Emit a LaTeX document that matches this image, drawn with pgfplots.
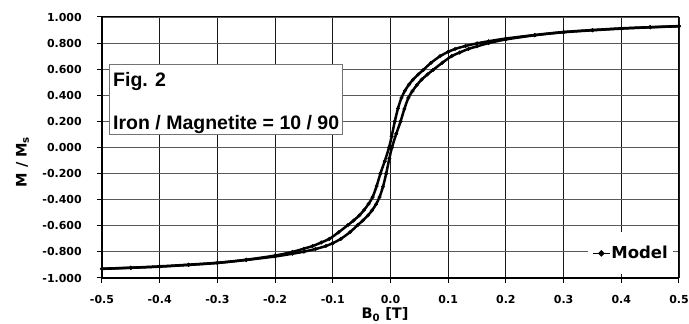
\documentclass[border=0pt]{standalone}
\usepackage{pgfplots}
\pgfplotsset{compat=1.18}
\usepackage{pgfplotstable}
\usepackage{fontspec}
\setmainfont{Liberation Sans}
\newfontfamily\dvs{DejaVu Sans}

\pgfplotstableread{
B M
-0.500 -0.929
-0.450 -0.921
-0.400 -0.911
-0.350 -0.898
-0.300 -0.883
-0.250 -0.860
-0.200 -0.828
-0.170 -0.800
-0.150 -0.775
-0.135 -0.755
-0.120 -0.728
-0.106 -0.700
-0.090 -0.650
-0.074 -0.595
-0.064 -0.560
-0.054 -0.520
-0.046 -0.480
-0.038 -0.432
-0.031 -0.380
-0.024 -0.295
-0.0175 -0.200
-0.010 -0.105
-0.0025 0.000
0.002 0.085
0.0075 0.200
0.013 0.300
0.019 0.380
0.025 0.435
0.032 0.482
0.039 0.520
0.048 0.560
0.057 0.595
0.070 0.648
0.086 0.700
0.100 0.733
0.112 0.755
0.130 0.778
0.150 0.798
0.170 0.814
0.200 0.835
0.250 0.862
0.300 0.885
0.350 0.900
0.400 0.913
0.450 0.922
0.500 0.930
}\upperbranch

\pgfplotstableread{
B M
-0.500 -0.930
-0.450 -0.922
-0.400 -0.913
-0.350 -0.900
-0.300 -0.885
-0.250 -0.862
-0.200 -0.835
-0.170 -0.814
-0.150 -0.798
-0.130 -0.778
-0.112 -0.755
-0.100 -0.733
-0.086 -0.700
-0.070 -0.648
-0.057 -0.595
-0.048 -0.560
-0.039 -0.520
-0.032 -0.482
-0.025 -0.435
-0.019 -0.380
-0.013 -0.300
-0.0075 -0.200
-0.002 -0.085
0.0025 0.000
0.010 0.105
0.0175 0.200
0.024 0.295
0.031 0.380
0.038 0.432
0.046 0.480
0.054 0.520
0.064 0.560
0.074 0.595
0.090 0.650
0.106 0.700
0.120 0.728
0.135 0.755
0.150 0.775
0.170 0.800
0.200 0.828
0.250 0.860
0.300 0.883
0.350 0.898
0.400 0.911
0.450 0.921
0.500 0.929
}\lowerbranch

\begin{document}
\begin{tikzpicture}
\begin{axis}[
  at={(0pt,0pt)}, anchor=south west,
  scale only axis, width=577pt, height=261pt,
  xmin=-0.5, xmax=0.5, ymin=-1, ymax=1,
  xtick={-0.5,-0.4,-0.3,-0.2,-0.1,0,0.1,0.2,0.3,0.4,0.5},
  xticklabels={-0.5,-0.4,-0.3,-0.2,-0.1,0.0,0.1,0.2,0.3,0.4,0.5},
  ytick={-1,-0.8,-0.6,-0.4,-0.2,0,0.2,0.4,0.6,0.8,1},
  yticklabels={-1.000,-0.800,-0.600,-0.400,-0.200,0.000,0.200,0.400,0.600,0.800,1.000},
  tick pos=left,
  tick align=outside,
  major tick length=5pt,
  every tick/.style={black, line width=1pt},
  tick label style={font=\dvs\bfseries\fontsize{11}{13}\selectfont},
  yticklabel style={anchor=east, inner sep=0pt, xshift=-15pt},
  xticklabel style={anchor=north, inner sep=0pt, yshift=-12pt},
  grid=major,
  x grid style={black!90, line width=0.9pt},
  y grid style={black!65, line width=0.9pt},
  axis line style={black, line width=1pt},
  legend style={at={(0.9896,0.094)}, anchor=east, draw=none, fill=white,
    inner xsep=4pt, inner ysep=13pt, nodes={inner sep=1pt},
    font=\dvs\bfseries\fontsize{16.5}{18}\selectfont},
  legend image code/.code={\draw[line width=1pt] (0pt,0pt) -- (17pt,0pt); \fill (8.5pt,0pt) circle (1.6pt);},
]
\addplot[black, line width=2.5pt, smooth, tension=0.5, mark=*, mark size=1.8pt, mark options={line width=0.4pt}] table[x=B, y=M] {\upperbranch};
\addlegendentry{Model}
\addplot[black, line width=2.5pt, smooth, tension=0.5, mark=*, mark size=1.8pt, mark options={line width=0.4pt}, forget plot] table[x=B, y=M] {\lowerbranch};
\end{axis}
\draw[black, line width=2pt] (0pt,261pt) -- (0pt,0pt) -- (577pt,0pt);
\draw[black!55, line width=1pt, fill=white] (8pt,213pt) rectangle (240pt,143pt);
\node[anchor=base west, inner sep=0pt, font=\bfseries\fontsize{19.5}{22}\selectfont] at (11pt,191pt) {Fig. 2};
\node[anchor=base west, inner sep=0pt, font=\bfseries\fontsize{19.5}{22}\selectfont] at (11pt,148pt) {Iron / Magnetite = 10 / 90};
\node[anchor=base, inner sep=0pt, rotate=90, font=\dvs\bfseries\fontsize{14.5}{16}\selectfont] at (-75.3pt,116pt) {M / M\textsubscript{s}};
\node[anchor=base, inner sep=0pt, font=\dvs\bfseries\fontsize{14.5}{16}\selectfont] at (283pt,-41pt) {B\textsubscript{0} [T]};
\pgfresetboundingbox
\useasboundingbox (-102pt,-46pt) rectangle (587pt,278pt);
\end{tikzpicture}
\end{document}
